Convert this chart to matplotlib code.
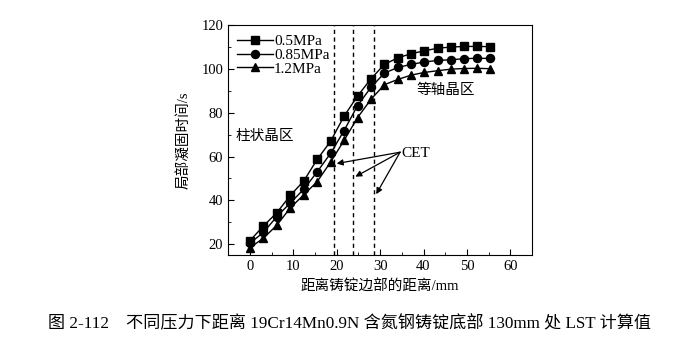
import matplotlib.pyplot as plt

plt.rcParams['font.family'] = ['Liberation Serif', 'Noto Sans CJK SC']
plt.rcParams['mathtext.fontset'] = 'stix'

# distance from ingot edge, mm
dist = [0, 3.1, 6.2, 9.3, 12.4, 15.5, 18.6, 21.7, 24.8, 27.9, 31.0, 34.1,
        37.2, 40.2, 43.3, 46.3, 49.4, 52.4, 55.4]

lst_05 = [21.5, 28.2, 34.3, 42.2, 48.8, 58.7, 67.0, 78.5, 87.7, 95.6, 102.2,
          105.2, 107.1, 108.4, 109.6, 110.1, 110.4, 110.4, 110.3]
lst_085 = [20.3, 25.3, 32.5, 38.8, 45.0, 53.0, 61.5, 71.9, 83.3, 91.7, 98.2,
           100.8, 102.2, 103.3, 104.0, 104.3, 104.8, 105.0, 104.9]
lst_12 = [18.3, 22.6, 28.6, 36.5, 42.5, 48.5, 57.5, 67.4, 77.8, 86.2, 92.9,
          95.3, 97.3, 98.5, 99.3, 100.0, 100.3, 100.4, 100.2]

labels = ['0.5MPa', '0.85MPa', '1.2MPa']
markers = ['s', 'o', '^']

cet_x = [19.4, 23.7, 28.6]
cet_tips = [(20.0, 56.8), (24.3, 50.8), (29.1, 42.8)]

fig = plt.figure(figsize=(7, 3.44), dpi=100)
ax = fig.add_axes([0.326, 0.259, 0.434, 0.667])

for ys, lab, mk in zip([lst_05, lst_085, lst_12], labels, markers):
    ax.plot(dist, ys, color='black', lw=1.0, marker=mk, ms=5.8, label=lab)

for xc in cet_x:
    ax.axvline(xc, color='black', ls=(0, (3, 2.5)), lw=1.0)

ax.set_xlim(-5, 65)
ax.set_ylim(15, 120)
ax.set_xticks(range(0, 61, 10))
ax.set_xticks(range(-5, 66, 5), minor=True)
ax.set_yticks(range(20, 121, 20))
ax.set_yticks(range(20, 121, 10), minor=True)
ax.tick_params(which='both', direction='in', top=False, right=False, labelsize=10.5)
ax.tick_params(which='major', length=4)
ax.tick_params(which='minor', length=2.5)

ax.set_xlabel('距离铸锭边部的距离/mm', fontsize=10.5, labelpad=5)
ax.set_ylabel('局部凝固时间/s', fontsize=10.5, labelpad=7)

ax.legend(loc='upper left', frameon=False, fontsize=11, handlelength=2.3,
          handletextpad=0.1, labelspacing=0.0, borderaxespad=0.2,
          bbox_to_anchor=(0.0, 1.0))

ax.text(-3.3, 69, '柱状晶区', fontsize=10.5, va='center', ha='left')
ax.text(38.3, 90.5, '等轴晶区', fontsize=10.5, va='center', ha='left')
ax.text(35.0, 61.5, 'CET', fontsize=11, va='center', ha='left')
for tip in cet_tips:
    ax.annotate('', xy=tip, xytext=(34.6, 62),
                arrowprops=dict(arrowstyle='-|>', color='black', lw=0.9,
                                mutation_scale=9, shrinkA=0, shrinkB=0))

fig.text(0.5, 0.058, '图 2-112　不同压力下距离 19Cr14Mn0.9N 含氮钢铸锭底部 130mm 处 LST 计算值',
         ha='center', va='center', fontsize=12.3)

fig.savefig('out.png', dpi=100)
